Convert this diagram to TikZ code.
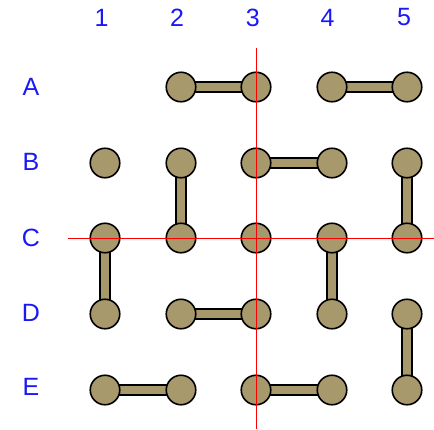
\documentclass[tikz,border=0pt]{standalone}
\usepackage{fontspec}
\setmainfont{Liberation Sans}
\definecolor{peg}{RGB}{167,153,108}
\definecolor{lbl}{RGB}{25,25,245}

\begin{document}
\begin{tikzpicture}[x=1pt,y=-1pt,
  hole/.style={circle,draw=black,fill=peg,line width=1.6pt,minimum size=29.5pt,inner sep=0pt},
  barout/.style={line width=12.5pt,black},
  barin/.style={line width=8.6pt,peg},
  lab/.style={text=lbl,font=\fontsize{25}{25}\selectfont,inner sep=0pt},
  cut/.style={red,line width=1pt}]
  \useasboundingbox (0,0) rectangle (434,429);
  % grid
  \foreach \r/\y in {A/87,B/163,C/238,D/314,E/390}
    \foreach \c/\x in {1/105,2/181,3/256,4/332,5/407}
      \coordinate (\r\c) at (\x,\y);
  % labels
  \foreach \c/\x in {1/101.5,2/177,3/252.7,4/327.5,5/404}
    \node[lab] (col\c) at (\x,17.5) {\c};
  \foreach \r/\y in {A/87,B/162,C/238,D/312.5,E/387}
    \node[lab] (row\r) at (31,\y) {\r};
  % bars
  \foreach \p/\q in {A2/A3,A4/A5,B2/C2,B3/B4,B5/C5,C1/D1,C4/D4,D2/D3,D5/E5,E1/E2,E3/E4}{
    \draw[barout] (\p) -- (\q);
    \draw[barin] (\p) -- (\q);
  }
  % pegs
  \foreach \h in {A2,A3,A4,A5,B1,B2,B3,B4,B5,C1,C2,C3,C4,C5,D1,D2,D3,D4,D5,E1,E2,E3,E4,E5}
    \node[hole] (peg\h) at (\h) {};
  % cuts
  \coordinate (vtop) at (256,48);
  \coordinate (vbot) at (256,429);
  \coordinate (hleft) at (68,238.5);
  \coordinate (hright) at (434,238.5);
  \draw[cut] (vtop) -- (vbot);
  \draw[cut] (hleft) -- (hright);
\end{tikzpicture}
\end{document}
